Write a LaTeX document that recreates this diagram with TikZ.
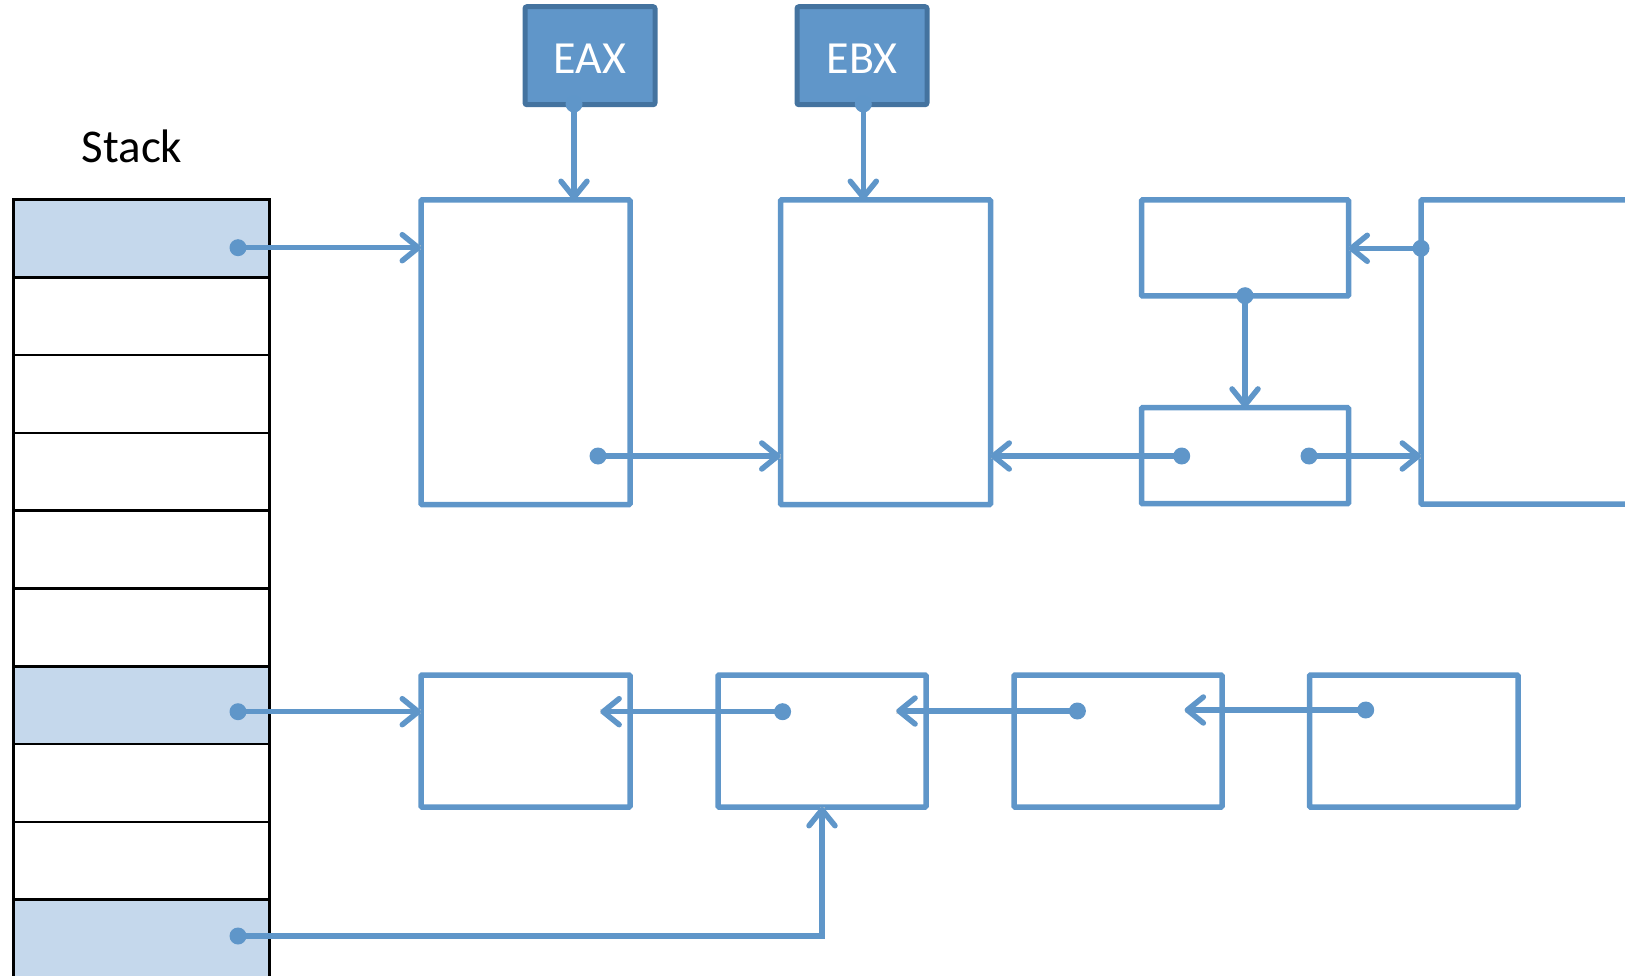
\documentclass[tikz,border=0pt]{standalone}
\usepackage{fontspec}
\setmainfont{Carlito}
\usetikzlibrary{arrows.meta}
\definecolor{bl}{HTML}{5F96C9}
\definecolor{blfill}{HTML}{C5D8EC}
\definecolor{regfill}{HTML}{6096C9}
\definecolor{regdraw}{HTML}{44739F}
\tikzset{
  box/.style={draw=bl, line width=5.5pt, inner sep=0pt, outer sep=0pt, anchor=north west, rounded corners=1pt},
  cell/.style={draw=black, line width=2.5pt, inner sep=0pt, outer sep=0pt, minimum width=256pt, minimum height=77.8pt, anchor=north west},
  shaded/.style={cell, fill=blfill},
  reg/.style={draw=regdraw, fill=regfill, line width=5pt, inner sep=0pt, outer sep=0pt, anchor=north west, rounded corners=2pt, minimum width=130pt, minimum height=98pt, text=white, font=\fontsize{46}{50}\selectfont},
  link/.style={draw=bl, line width=5.5pt, -{Straight Barb[length=16pt,width=26pt,round]}},
  shadowl/.style={draw=black!20, line width=5pt, opacity=0.6, shift={(1.5pt,-3.5pt)}},
  dotc/.style={fill=bl}
}
\begin{document}
\begin{tikzpicture}[x=1pt,y=-1pt]
\useasboundingbox (0,0) rectangle (1625,976);
% stack
\node[font=\fontsize{47}{50}\selectfont, anchor=base] (stacklbl) at (132,162.3) {Stack};
\node[shaded] (s1) at (13.3,199.5) {};
\node[cell] (s2) at (13.3,277.3) {};
\node[cell] (s3) at (13.3,355.1) {};
\node[cell] (s4) at (13.3,432.9) {};
\node[cell] (s5) at (13.3,510.7) {};
\node[cell] (s6) at (13.3,588.5) {};
\node[shaded] (s7) at (13.3,666.3) {};
\node[cell] (s8) at (13.3,744.1) {};
\node[cell] (s9) at (13.3,821.9) {};
\node[shaded] (s10) at (13.3,899.7) {};
% registers
\node[reg] (eax) at (525,6.7) {\raisebox{-18pt}[0pt][0pt]{EAX}};
\node[reg] (ebx) at (797,6.7) {\raisebox{-18pt}[0pt][0pt]{EBX}};
% boxes top
\node[box, minimum width=209pt, minimum height=304.5pt] (A) at (421,200) {};
\node[box, minimum width=210pt, minimum height=304.5pt] (B) at (780.5,200) {};
\node[box, minimum width=207pt, minimum height=96pt] (C) at (1141.5,200) {};
\node[box, minimum width=207pt, minimum height=96pt] (D) at (1141.5,407.7) {};
\node[box, minimum width=260pt, minimum height=304pt] (E) at (1421,200) {};
% boxes bottom
\node[box, minimum width=209pt, minimum height=132pt] (F) at (421,675) {};
\node[box, minimum width=208pt, minimum height=132pt] (G) at (718,675) {};
\node[box, minimum width=208pt, minimum height=132pt] (H) at (1014,675) {};
\node[box, minimum width=208.5pt, minimum height=132pt] (I) at (1309.5,675) {};
% dot coordinates
\coordinate (d1) at (238,247.7);
\coordinate (d7) at (238,711.7);
\coordinate (d10) at (238,936);
\coordinate (dEAX) at (574,104);
\coordinate (dEBX) at (863.3,104);
\coordinate (dA) at (598,456);
\coordinate (dD1) at (1181.7,456);
\coordinate (dD2) at (1309,456);
\coordinate (dE) at (1421,248.3);
\coordinate (dC) at (1245,295.7);
\coordinate (dG) at (782.6,711.7);
\coordinate (dH) at (1077.4,711);
\coordinate (dI) at (1365.7,710);
\coordinate (tF) at (600.4,711.7);
\coordinate (tG) at (896.3,711);
\coordinate (tH) at (1184.6,710);
% shadows of horizontal connectors
\draw[shadowl] (d1) -- (d1 -| A.west);
\draw[shadowl] (dA) -- (dA -| B.west);
\draw[shadowl] (dD1) -- (dD1 -| B.east);
\draw[shadowl] (dD2) -- (dD2 -| E.west);
\draw[shadowl] (dE) -- (dE -| C.east);
\draw[shadowl] (d7) -- (d7 -| F.west);
\draw[shadowl] (dG) -- (tF);
\draw[shadowl] (dH) -- (tG);
\draw[shadowl] (dI) -- (tH);
\draw[shadowl] (d10) -| (G.south);
% connectors
\draw[link] (d1) -- (d1 -| A.west);
\draw[link] (dEAX) -- (dEAX |- A.north);
\draw[link] (dEBX) -- (dEBX |- B.north);
\draw[link] (dA) -- (dA -| B.west);
\draw[link] (dD1) -- (dD1 -| B.east);
\draw[link] (dD2) -- (dD2 -| E.west);
\draw[link] (dE) -- (dE -| C.east);
\draw[link] (dC) -- (dC |- D.north);
\draw[link] (d7) -- (d7 -| F.west);
\draw[link] (dG) -- (tF);
\draw[link] (dH) -- (tG);
\draw[link] (dI) -- (tH);
\draw[link] (d10) -| (G.south);
% dots
\foreach \p in {d1,d7,d10,dEAX,dEBX,dA,dD1,dD2,dE,dC,dG,dH,dI}
  \fill[dotc] (\p) circle (8.5pt);
\end{tikzpicture}
\end{document}
